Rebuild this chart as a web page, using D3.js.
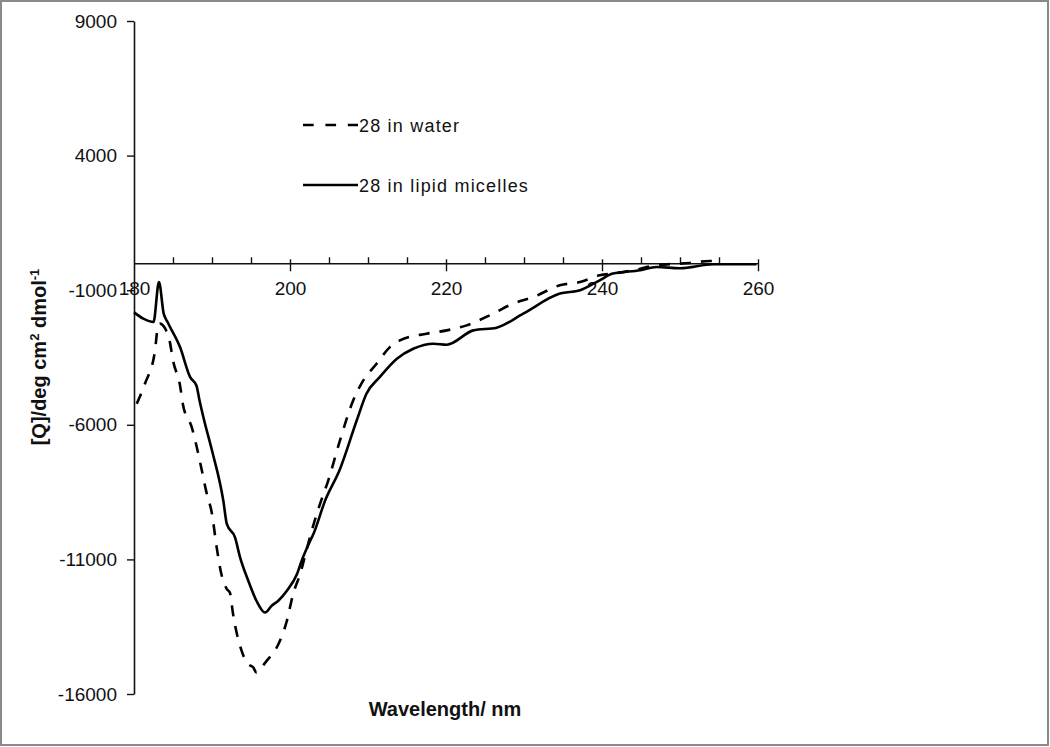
<!DOCTYPE html>
<html>
<head>
<meta charset="utf-8">
<script src="https://cdn.jsdelivr.net/npm/d3@7"></script>
<style>
  html, body { margin: 0; padding: 0; background: #fff; }
  svg { display: block; font-family: "Liberation Sans", Arial, sans-serif; }
</style>
</head>
<body>
<svg id="chart" width="1050" height="747"></svg>
<script>
// ---- data ----
const waterWavelength = [180.35, 181.4, 182.7, 182.95, 183.3, 184.0, 184.6, 185.0, 185.9, 186.3,
  187.4, 188.0, 188.7, 189.3, 190.0, 190.6, 191.2, 191.9, 192.3, 192.7,
  193.8, 194.6, 195.3, 195.7, 196.3, 197.0, 198.3, 199.6, 200.4, 201.3,
  202.1, 202.9, 203.85, 204.9, 206.4, 208.1, 209.4, 211.1, 212.8, 214.1,
  217.5, 220.1, 222.65, 225.6, 228.6, 231.2, 234.6, 237.2, 239.7, 241.4,
  244.0, 247.0, 251.3, 253.8, 254.9];
const waterValues = [-5219, -4475, -3236, -2567, -2243, -2429, -2928, -3608, -4538, -5282,
  -6090, -6770, -7700, -8519, -9311, -10554, -11543, -12101, -12239, -13031,
  -14396, -14880, -15018, -15204, -15029, -14768, -14274, -13280, -12287, -11543,
  -10676, -9821, -8939, -8072, -6584, -5096, -4352, -3731, -3114, -2864,
  -2615, -2492, -2306, -1934, -1499, -1254, -818, -696, -446, -383,
  -260, -74, 11, 86, 74];

const micelleWavelength = [180.0, 181.2, 182.5, 183.2, 183.8, 184.3, 185.9, 187.2, 188.0, 188.4,
  189.0, 190.0, 191.45, 191.9, 192.95, 193.6, 194.65, 195.7, 196.8, 197.65,
  198.5, 199.6, 200.9, 201.5, 202.6, 203.0, 204.5, 206.4, 208.55, 209.8,
  211.5, 213.7, 215.8, 218.4, 220.1, 223.5, 226.5, 229.9, 234.6, 237.2,
  239.7, 241.4, 244.9, 247.0, 250.0, 254.3, 259.8];
const micelleValues = [-1823, -2057, -2180, -696, -1860, -2184, -3113, -4230, -4540, -5096,
  -5840, -6956, -8816, -9683, -10182, -10926, -11792, -12536, -12972, -12722,
  -12536, -12164, -11543, -11048, -10304, -10055, -8816, -7650, -5840, -4847,
  -4230, -3545, -3173, -2987, -3024, -2492, -2392, -1871, -1127, -1004,
  -632, -383, -260, -138, -186, -37, -37];

const xTickValues = [180, 200, 220, 240, 260];
const xMinorTickValues = [185, 190, 195, 205, 210, 215, 225, 230, 235, 245, 250, 255];
const yTickValues = [9000, 4000, -1000, -6000, -11000, -16000];
const seriesLabels = ["28 in water", "28 in lipid micelles"];
const xAxisTitle = "Wavelength/ nm";

// ---- layout ----
const svg = d3.select("#chart");
const x = d3.scaleLinear().domain([180, 260]).range([134, 758]);
const y = d3.scaleLinear().domain([-16000, 9000]).range([694, 21]);

// frame
svg.append("rect").attr("x", 1).attr("y", 1).attr("width", 1047).attr("height", 744)
  .attr("fill", "#fff").attr("stroke", "#8a8a8a").attr("stroke-width", 2);

// y axis
const yAxis = svg.append("g").attr("transform", `translate(${x(180)},0)`)
  .call(d3.axisLeft(y).tickValues(yTickValues).tickSizeInner(7).tickSizeOuter(0)
    .tickPadding(10).tickFormat(d => String(d)));
yAxis.select(".domain").attr("stroke", "#111").attr("stroke-width", 1.6);
yAxis.selectAll(".tick line").attr("stroke", "#111").attr("stroke-width", 1.4);
yAxis.selectAll(".tick text").attr("font-size", 19).attr("fill", "#111")
  .attr("font-family", "Liberation Sans, Arial, sans-serif");

// x axis at zero
const y0 = y(0);
const xAxis = svg.append("g").attr("transform", `translate(0,${y0})`)
  .call(d3.axisBottom(x).tickValues(xTickValues).tickSizeInner(8).tickSizeOuter(0)
    .tickPadding(10).tickFormat(d => String(d)));
xAxis.select(".domain").attr("stroke", "#111").attr("stroke-width", 1.6);
xAxis.selectAll(".tick line").attr("stroke", "#111").attr("stroke-width", 1.4).attr("y1", -4);
xAxis.selectAll(".tick text").attr("font-size", 19).attr("fill", "#111")
  .attr("font-family", "Liberation Sans, Arial, sans-serif");
xAxis.selectAll(".tick").filter(d => d === 180).select("line").remove();

// minor ticks (upward)
const minorAxis = svg.append("g").attr("transform", `translate(0,${y0})`)
  .call(d3.axisTop(x).tickValues(xMinorTickValues).tickSizeInner(6).tickSizeOuter(0).tickFormat(""));
minorAxis.select(".domain").remove();
minorAxis.selectAll(".tick line").attr("stroke", "#111").attr("stroke-width", 1.4);

// axis titles
svg.append("text").attr("x", 445).attr("y", 716).attr("text-anchor", "middle")
  .attr("font-size", 20).attr("font-weight", "bold").attr("fill", "#111").text(xAxisTitle);

const yt = svg.append("text").attr("transform", "translate(46,357) rotate(-90)")
  .attr("text-anchor", "middle").attr("font-size", 20).attr("font-weight", "bold").attr("fill", "#111");
yt.append("tspan").text("[Q]/deg cm");
yt.append("tspan").attr("font-size", 13).attr("dy", -7).text("2");
yt.append("tspan").attr("dy", 7).text(" dmol");
yt.append("tspan").attr("font-size", 13).attr("dy", -7).text("-1");

// curves
const line = d3.line().x(d => x(d[0])).y(d => y(d[1])).curve(d3.curveMonotoneX);
const waterData = d3.zip(waterWavelength, waterValues);
const micelleData = d3.zip(micelleWavelength, micelleValues);

svg.append("path").datum(waterData).attr("d", line).attr("fill", "none")
  .attr("stroke", "#000").attr("stroke-width", 2.6).attr("stroke-dasharray", "11,10");
svg.append("path").datum(micelleData).attr("d", line).attr("fill", "none")
  .attr("stroke", "#000").attr("stroke-width", 2.6);

// legend
const legend = svg.append("g");
const legendRows = [
  { label: seriesLabels[0], ly: 125, dash: "10.7,11.7" },
  { label: seriesLabels[1], ly: 185, dash: null }
];
legendRows.forEach(r => {
  legend.append("line").attr("x1", 303).attr("x2", 358).attr("y1", r.ly).attr("y2", r.ly)
    .attr("stroke", "#000").attr("stroke-width", 2.6)
    .attr("stroke-dasharray", r.dash);
  legend.append("text").attr("x", 359).attr("y", r.ly + 7).attr("font-size", 18)
    .attr("letter-spacing", 1.2).attr("fill", "#111").text(r.label);
});
</script>
</body>
</html>
